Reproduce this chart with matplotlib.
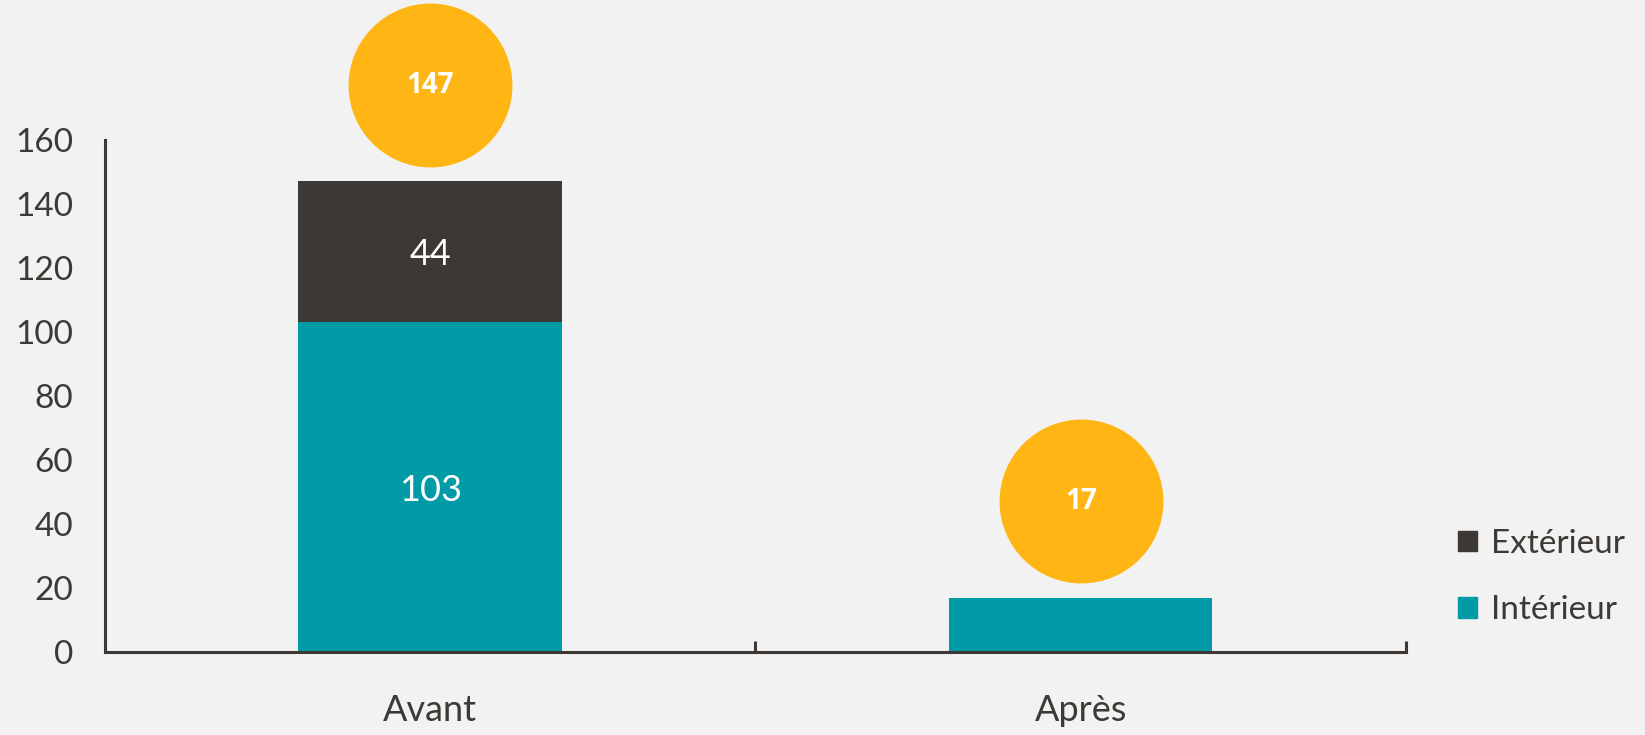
"""Stacked bars of cases before/after, with totals shown in circles."""

import matplotlib.pyplot as plt
from matplotlib.patches import Patch

categories = ["Avant", "Après"]
interieur = [103, 17]
exterieur = [44, 0]
totals = [147, 17]
y_ticks = [0, 20, 40, 60, 80, 100, 120, 140, 160]

BG = "#f2f2f2"
TEAL = "#009ba7"
DARK = "#3d3834"
GOLD = "#ffb615"
TEXT = "#3d3935"

plt.rcParams["font.family"] = ["Lato", "DejaVu Sans"]

figure = plt.figure(figsize=(16.45, 7.35), dpi=100, facecolor=BG)
axis = figure.add_axes([0.0638, 0.1129, 0.7909, 0.6973], facecolor=BG)

x = range(len(categories))
axis.bar(x, interieur, width=0.405, color=TEAL, label="Intérieur", zorder=2)
axis.bar(x, exterieur, width=0.405, bottom=interieur, color=DARK,
         label="Extérieur", zorder=2)

# segment values inside the bars (only where the segment is tall enough)
for i, (lo, hi) in enumerate(zip(interieur, exterieur)):
    if lo > 30:
        axis.text(i, lo / 2, str(lo), ha="center", va="center_baseline",
                  color="white", fontsize=26)
    if hi > 0:
        axis.text(i, lo + hi / 2, str(hi), ha="center", va="center_baseline",
                  color="white", fontsize=26)

# totals in gold circles above each bar
for i, total in enumerate(totals):
    axis.scatter(i, total + 30, s=118 ** 2, color=GOLD, linewidths=0,
                 clip_on=False, zorder=3)
    axis.text(i, total + 30, str(total), ha="center", va="center",
              color="white", fontsize=20, fontweight="bold",
              family=["Open Sans", "DejaVu Sans"], zorder=4)

axis.set_xlim(-0.5, 1.5)
axis.set_ylim(0, 160)
axis.set_yticks(y_ticks)
axis.set_xticks(list(x))
axis.set_xticklabels(categories)
axis.set_xticks([0.5, 1.5], minor=True)
axis.tick_params(axis="y", length=0, pad=23, labelsize=24, labelcolor=TEXT)
axis.tick_params(axis="x", which="major", length=0, pad=30, labelsize=26,
                 labelcolor=TEXT)
axis.tick_params(axis="x", which="minor", direction="in", length=8,
                 width=2.2, color=DARK)

for side in ["top", "right"]:
    axis.spines[side].set_visible(False)
for side in ["left", "bottom"]:
    axis.spines[side].set_color(DARK)
    axis.spines[side].set_linewidth(2.2)

handles = [Patch(color=DARK, label="Extérieur"),
           Patch(color=TEAL, label="Intérieur")]
legend = figure.legend(handles=handles, loc="center left",
                       bbox_to_anchor=(0.868, 0.215), frameon=False,
                       fontsize=24, handlelength=0.57, handleheight=0.57,
                       handletextpad=0.42, labelspacing=1.1)
for text in legend.get_texts():
    text.set_color(TEXT)

figure.savefig("out.png", dpi=100, facecolor=BG)
